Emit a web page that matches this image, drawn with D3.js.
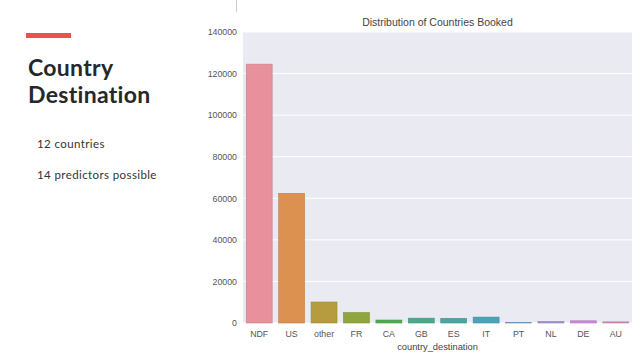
<!DOCTYPE html>
<html>
<head>
<meta charset="utf-8">
<script src="https://cdn.jsdelivr.net/npm/d3@7"></script>
<style>
  body { margin: 0; background: #fff; }
  svg { display: block; }
</style>
</head>
<body>
<div id="chart"></div>
<script>
const countries = ["NDF", "US", "other", "FR", "CA", "GB", "ES", "IT", "PT", "NL", "DE", "AU"];
const bookings = [124543, 62376, 10094, 5023, 1428, 2324, 2249, 2835, 217, 762, 1061, 539];
const barColors = ["#e8919d", "#dd9150", "#b69c3f", "#8fa63c", "#4eac51", "#4aa98b", "#4ba6a0", "#4ba3b8",
                   "#76a1d6", "#a095d8", "#c98ad6", "#d98ab3"];
const yTicks = [0, 20000, 40000, 60000, 80000, 100000, 120000, 140000];

const W = 638, H = 359;
const margin = {top: 32, right: 6, bottom: 36, left: 243};

const svg = d3.select("#chart").append("svg")
    .attr("width", W)
    .attr("height", H);

// slide text on the left
svg.append("rect")
    .attr("x", 26).attr("y", 33)
    .attr("width", 45).attr("height", 5)
    .attr("fill", "#e8534f");

svg.append("text")
    .attr("x", 28).attr("y", 76)
    .attr("font-family", "Lato, 'Open Sans', sans-serif")
    .attr("font-weight", 700)
    .attr("font-size", 23)
    .attr("letter-spacing", 0.3)
    .attr("fill", "#25282b")
    .text("Country");

svg.append("text")
    .attr("x", 28).attr("y", 103)
    .attr("font-family", "Lato, 'Open Sans', sans-serif")
    .attr("font-weight", 700)
    .attr("font-size", 23)
    .attr("letter-spacing", 0.3)
    .attr("fill", "#25282b")
    .text("Destination");

svg.append("text")
    .attr("x", 37).attr("y", 148)
    .attr("font-family", "Lato, 'Open Sans', sans-serif")
    .attr("font-size", 11.5)
    .attr("letter-spacing", 0.4)
    .attr("fill", "#333")
    .text("12 countries");

svg.append("text")
    .attr("x", 37).attr("y", 179)
    .attr("font-family", "Lato, 'Open Sans', sans-serif")
    .attr("font-size", 11.5)
    .attr("letter-spacing", 0.4)
    .attr("fill", "#333")
    .text("14 predictors possible");

// thin divider at the top
svg.append("line")
    .attr("x1", 236.5).attr("x2", 236.5)
    .attr("y1", 0).attr("y2", 12)
    .attr("stroke", "#ccc");

// chart
const width = W - margin.left - margin.right;
const height = H - margin.top - margin.bottom;

const g = svg.append("g")
    .attr("transform", `translate(${margin.left}, ${margin.top})`);

const x = d3.scaleBand()
    .domain(countries)
    .range([0, width])
    .paddingInner(0.2)
    .paddingOuter(0.1);

const y = d3.scaleLinear()
    .domain([0, 140000])
    .range([height, 0]);

g.append("rect")
    .attr("width", width)
    .attr("height", height)
    .attr("fill", "#eaeaf2");

g.selectAll("line.grid")
    .data(yTicks)
    .join("line")
    .attr("class", "grid")
    .attr("x1", 0).attr("x2", width)
    .attr("y1", d => y(d)).attr("y2", d => y(d))
    .attr("stroke", "#fff")
    .attr("stroke-width", 1);

g.selectAll("rect.bar")
    .data(countries)
    .join("rect")
    .attr("class", "bar")
    .attr("x", d => x(d))
    .attr("y", (d, i) => y(bookings[i]))
    .attr("width", x.bandwidth())
    .attr("height", (d, i) => height - y(bookings[i]))
    .attr("fill", (d, i) => barColors[i])
    .attr("stroke", (d, i) => d3.color(barColors[i]).darker(0.4))
    .attr("stroke-width", 0.6);

const yAxis = g.append("g")
    .call(d3.axisLeft(y).tickValues(yTicks).tickSize(0).tickPadding(6).tickFormat(d3.format("d")));
yAxis.select(".domain").remove();
yAxis.selectAll("text")
    .attr("font-family", "'Liberation Sans', Arial, sans-serif")
    .attr("font-size", 8.8)
    .attr("fill", "#555");

const xAxis = g.append("g")
    .attr("transform", `translate(0, ${height})`)
    .call(d3.axisBottom(x).tickSize(0).tickPadding(8));
xAxis.select(".domain").remove();
xAxis.selectAll("text")
    .attr("font-family", "'Liberation Sans', Arial, sans-serif")
    .attr("font-size", 8.8)
    .attr("fill", "#555");

g.append("text")
    .attr("x", width / 2)
    .attr("y", height + 27)
    .attr("text-anchor", "middle")
    .attr("font-family", "'Liberation Sans', Arial, sans-serif")
    .attr("font-size", 9.3)
    .attr("fill", "#444")
    .text("country_destination");

g.append("text")
    .attr("x", width / 2)
    .attr("y", -6)
    .attr("text-anchor", "middle")
    .attr("font-family", "'Liberation Sans', Arial, sans-serif")
    .attr("font-size", 10.5)
    .attr("fill", "#444")
    .text("Distribution of Countries Booked");
</script>
</body>
</html>
